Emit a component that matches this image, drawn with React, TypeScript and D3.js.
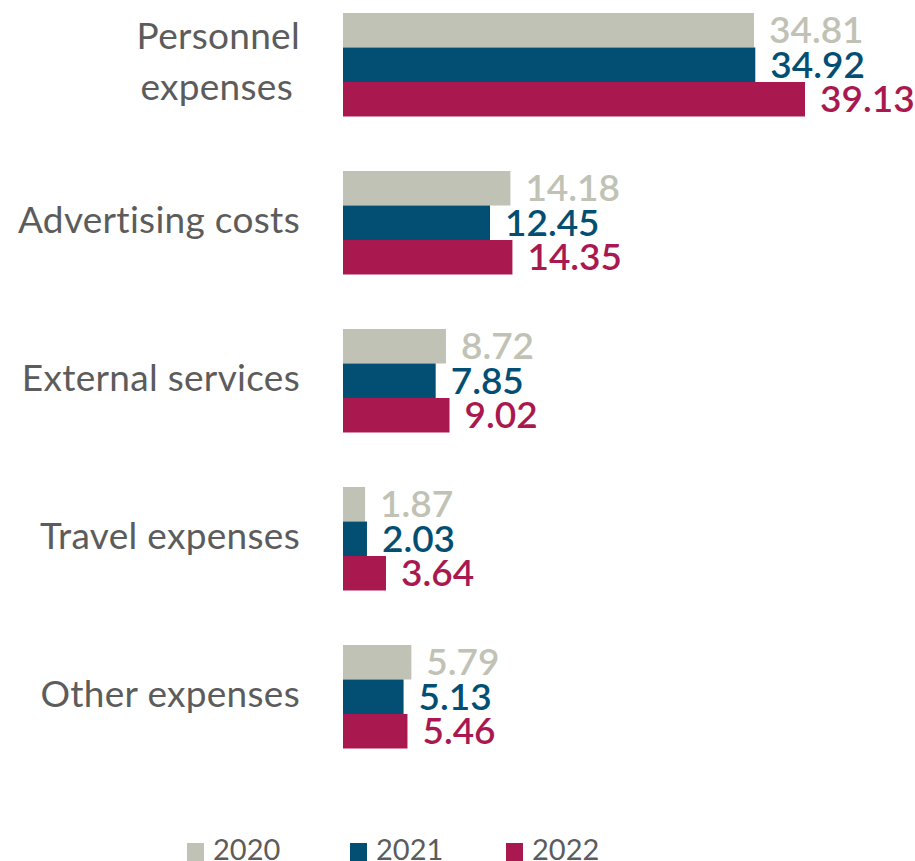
import React from "react";
import * as d3 from "d3";

const categories = ["Personnel expenses", "Advertising costs", "External services", "Travel expenses", "Other expenses"];
const categoryLines = [["Personnel", "expenses"], ["Advertising costs"], ["External services"], ["Travel expenses"], ["Other expenses"]];
const years = ["2020", "2021", "2022"];
const values2020 = [34.81, 14.18, 8.72, 1.87, 5.79];
const values2021 = [34.92, 12.45, 7.85, 2.03, 5.13];
const values2022 = [39.13, 14.35, 9.02, 3.64, 5.46];
const series = [values2020, values2021, values2022];
const colors = ["#bfc2b4", "#024f73", "#a9194f"];

const W = 915;
const H = 861;
const FONT = "Lato, 'Open Sans', sans-serif";

export default function App() {
  const x = d3.scaleLinear().domain([0, 39.13]).range([343, 805]);
  const y = d3.scaleBand<string>().domain(categories).range([13, 748.5]).paddingInner(0.345).paddingOuter(0);
  const yInner = d3.scaleBand<string>().domain(years).range([0, y.bandwidth()]).padding(0);

  const legendX = [187, 350, 506];

  return (
    <svg width={W} height={H} style={{ position: "absolute", left: 0, top: 0 }}>
      <rect width={W} height={H} fill="#fff" />
      {categories.map((c, i) => {
        const y0 = y(c)!;
        const lines = categoryLines[i];
        const mid = y0 + y.bandwidth() / 2;
        return (
          <g key={c}>
            {lines.map((ln, j) => (
              <text
                key={j}
                x={lines.length === 1 ? 300 : 300 - j * 7}
                y={lines.length === 1 ? mid + 10 : mid - 16 + j * 51}
                textAnchor="end"
                fontFamily={FONT}
                fontSize={37}
                letterSpacing={0.3}
                fill="#5c5c5c"
              >
                {ln}
              </text>
            ))}
            {years.map((yr, k) => {
              const v = series[k][i];
              const by = y0 + yInner(yr)!;
              return (
                <g key={yr}>
                  <rect x={x(0)} y={by} width={x(v) - x(0)} height={yInner.bandwidth()} fill={colors[k]} />
                  <text
                    x={x(v) + 15}
                    y={by + yInner.bandwidth() / 2 + 13}
                    fontFamily={FONT}
                    fontWeight={600}
                    fontSize={37}
                    fill={colors[k]}
                  >
                    {v.toFixed(2)}
                  </text>
                </g>
              );
            })}
          </g>
        );
      })}
      {years.map((yr, k) => (
        <g key={yr}>
          <rect x={legendX[k]} y={843} width={17} height={18} fill={colors[k]} />
          <text x={legendX[k] + 26} y={860} fontFamily={FONT} fontSize={29} fill="#5c5c5c">
            {yr}
          </text>
        </g>
      ))}
    </svg>
  );
}
